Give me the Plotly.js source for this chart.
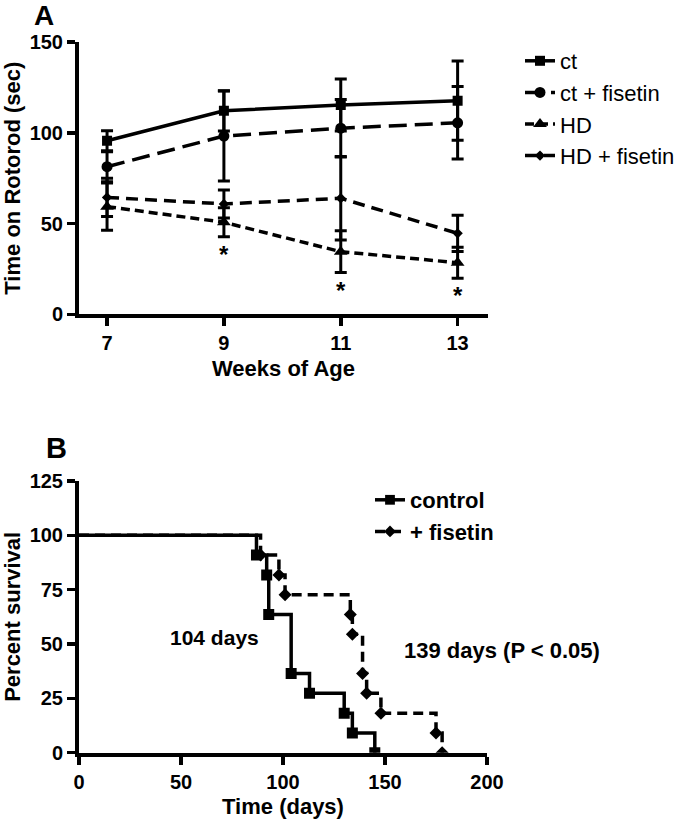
<!DOCTYPE html>
<html>
<head>
<meta charset="utf-8">
<script src="https://cdn.plot.ly/plotly-3.0.1.min.js"></script>
<style>html,body{margin:0;padding:0;background:#fff;}#chart{width:674px;height:820px;}</style>
</head>
<body>
<div id="chart"></div>
<script>
// ---- Panel A data ----
const weeks = [7, 9, 11, 13];
const ctMean = [95.6, 112.1, 115.3, 117.7];
const ctErr = [5.5, 11.1, 14.3, 21.8];
const ctFisMean = [81.3, 98.2, 102.5, 105.5];
const ctFisErr = [8.3, 24.8, 15.8, 20.0];
const hdMean = [59.3, 50.7, 34.5, 28.4];
const hdErr = [13.0, 8.0, 11.5, 8.5];
const hdFisMean = [64.4, 60.8, 63.9, 44.6];
const hdFisErr = [10.5, 7.7, 23.0, 10.0];
const sigWeeks = [9, 11, 13];
const seriesNamesA = ['ct', 'ct + fisetin', 'HD', 'HD + fisetin'];

// ---- Panel B data ----
const ctrlDays = [0, 87, 92, 93, 104, 113, 130, 134, 145];
const ctrlSurv = [100, 90.9, 81.8, 63.6, 36.4, 27.3, 18.2, 9.1, 0];
const fisDays = [0, 89, 98, 101, 133, 134, 139, 141, 148, 175, 178];
const fisSurv = [100, 90.9, 81.8, 72.7, 63.6, 54.5, 36.4, 27.3, 18.2, 9.1, 0];
const seriesNamesB = ['control', '+ fisetin'];
const medianLabels = ['104 days', '139 days (P < 0.05)'];

const F = 'Liberation Sans, Arial, Helvetica, sans-serif';
const K = '#000';

function errBar(arr) {
  return {type: 'data', array: arr, visible: true, color: K, thickness: 3, width: 6};
}
function traceA(name, y, err, symbol, size, dash) {
  return {
    type: 'scatter', mode: 'lines+markers', name: name, x: weeks, y: y,
    xaxis: 'x', yaxis: 'y', legend: 'legend',
    line: {color: K, width: 3.5, dash: dash},
    marker: {symbol: symbol, size: size, color: K, opacity: 1},
    error_y: errBar(err)
  };
}
function sizesFor(arr, s) { return arr.map((v, i) => i === 0 ? 0 : s); }

const data = [
  traceA(seriesNamesA[0], ctMean, ctErr, 'square', 10, 'solid'),
  traceA(seriesNamesA[1], ctFisMean, ctFisErr, 'circle', 11, '18px,8px'),
  traceA(seriesNamesA[2], hdMean, hdErr, 'triangle-up', 12, '9px,5px'),
  traceA(seriesNamesA[3], hdFisMean, hdFisErr, 'diamond', 8, '12px,7px'),
  {
    type: 'scatter', mode: 'lines+markers', name: seriesNamesB[0],
    x: ctrlDays, y: ctrlSurv, xaxis: 'x2', yaxis: 'y2', legend: 'legend2',
    line: {color: K, width: 3.5, shape: 'hv'},
    marker: {symbol: 'square', size: sizesFor(ctrlDays, 11), color: K, opacity: 1, line: {width: 0}}
  },
  {
    type: 'scatter', mode: 'lines+markers', name: seriesNamesB[1],
    x: fisDays, y: fisSurv, xaxis: 'x2', yaxis: 'y2', legend: 'legend2',
    line: {color: K, width: 3.5, shape: 'hv', dash: '10px,6px'},
    marker: {symbol: 'diamond', size: sizesFor(fisDays, 10), color: K, opacity: 1, line: {width: 0}}
  }
];

function axisBase() {
  return {
    showline: true, linewidth: 4, linecolor: K, showgrid: false, zeroline: false,
    ticks: 'outside', ticklen: 8, tickwidth: 3.5, tickcolor: K,
    tickfont: {family: F, size: 20, weight: 'bold', color: K}
  };
}

const annotations = [];
// significance asterisks under HD error bars
sigWeeks.forEach(w => {
  const i = weeks.indexOf(w);
  annotations.push({
    x: w, y: hdMean[i] - hdErr[i], xref: 'x', yref: 'y',
    text: '*', showarrow: false, yanchor: 'top', yshift: -2,
    font: {family: F, size: 24, weight: 'bold', color: K}
  });
});
annotations.push({x: 44 / 674, y: 1 - 15 / 820, xref: 'paper', yref: 'paper', text: 'A', showarrow: false,
  xanchor: 'center', yanchor: 'middle',
  font: {family: F, size: 28, weight: 'bold', color: K}});
annotations.push({x: 56 / 674, y: 1 - 448 / 820, xref: 'paper', yref: 'paper', text: 'B', showarrow: false,
  xanchor: 'center', yanchor: 'middle',
  font: {family: F, size: 29, weight: 'bold', color: K}});
annotations.push({x: 66.5, y: 52.8, xref: 'x2', yref: 'y2', text: medianLabels[0], showarrow: false,
  xanchor: 'center', yanchor: 'middle',
  font: {family: F, size: 21, weight: 'bold', color: K}});
annotations.push({x: 158.5, y: 47.2, xref: 'x2', yref: 'y2', text: medianLabels[1], showarrow: false,
  xanchor: 'left', yanchor: 'middle',
  font: {family: F, size: 22, weight: 'bold', color: K}});

const layout = {
  width: 674, height: 820,
  margin: {l: 0, r: 0, t: 0, b: 0, autoexpand: false},
  paper_bgcolor: '#fff', plot_bgcolor: '#fff',
  font: {family: F, color: K},
  showlegend: true,
  xaxis: Object.assign(axisBase(), {
    domain: [79 / 674, 488 / 674], range: [6.52, 13.52], tickvals: weeks, anchor: 'y',
    title: {text: 'Weeks of Age', font: {family: F, size: 22, weight: 'bold', color: K}, standoff: 8}
  }),
  yaxis: Object.assign(axisBase(), {
    domain: [1 - 314.3 / 820, 1 - 42 / 820], range: [0, 150], tickvals: [0, 50, 100, 150], anchor: 'x',
    title: {text: 'Time on Rotorod (sec)', font: {family: F, size: 22, weight: 'bold', color: K}, standoff: 8}
  }),
  xaxis2: Object.assign(axisBase(), {
    domain: [79 / 674, 487 / 674], range: [0, 200], tickvals: [0, 50, 100, 150, 200], anchor: 'y2',
    title: {text: 'Time (days)', font: {family: F, size: 22, weight: 'bold', color: K}, standoff: 8}
  }),
  yaxis2: Object.assign(axisBase(), {
    domain: [1 - 752.7 / 820, 1 - 481 / 820], range: [0, 125], tickvals: [0, 25, 50, 75, 100, 125], anchor: 'x2',
    title: {text: 'Percent survival', font: {family: F, size: 22, weight: 'bold', color: K}, standoff: 8}
  }),
  legend: {
    x: 520 / 674, xanchor: 'left', y: 1 - 40 / 820, yanchor: 'top',
    bgcolor: 'rgba(0,0,0,0)', borderwidth: 0,
    font: {family: F, size: 22, color: K}
  },
  legend2: {
    x: 370 / 674, xanchor: 'left', y: 1 - 479 / 820, yanchor: 'top',
    bgcolor: 'rgba(0,0,0,0)', borderwidth: 0,
    font: {family: F, size: 22, weight: 'bold', color: K}
  },
  annotations: annotations
};

Plotly.newPlot('chart', data, layout, {staticPlot: true, displayModeBar: false});
</script>
</body>
</html>
